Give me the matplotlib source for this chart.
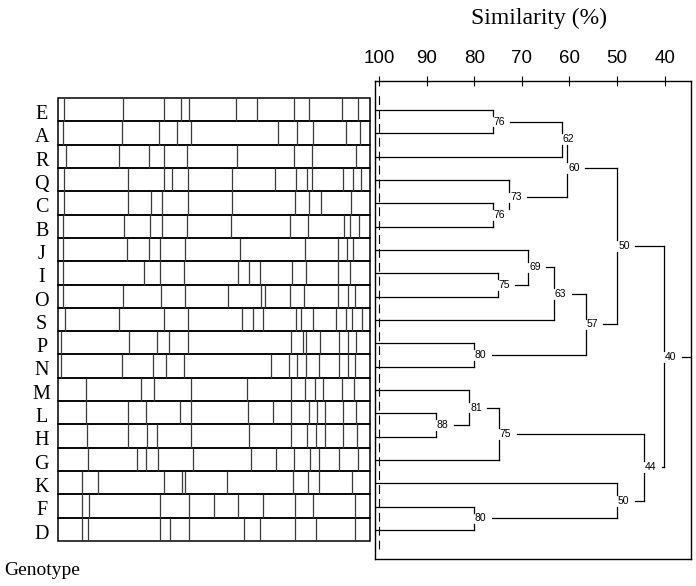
import matplotlib.pyplot as plt
from matplotlib.patches import Rectangle

genotypes = ['E', 'A', 'R', 'Q', 'C', 'B', 'J', 'I', 'O', 'S',
             'P', 'N', 'M', 'L', 'H', 'G', 'K', 'F', 'D']

# band positions along each lane (gel scan units, lane runs 58.3 -> 370.3)
bands_E = [64, 123.3, 163.7, 180.7, 189, 236, 257.3, 293.5, 309.3, 342.3, 357.5]
bands_A = [63.3, 122.2, 159.3, 177.3, 190.5, 277.7, 297.3, 313, 345.7, 360.3]
bands_R = [65.5, 118.5, 148.7, 163.5, 186.7, 237, 294.3, 311.7, 355.7]
bands_Q = [63.5, 128, 163.5, 171.5, 187.7, 232.3, 275.3, 296, 307.3, 311.7, 343.3, 353.3, 360.5]
bands_C = [63.5, 128, 151, 162.3, 187.7, 232.3, 294.5, 309.3, 320.8, 351.3]
bands_B = [63.3, 124.3, 149.5, 162.3, 186.7, 231.3, 290.2, 308.3, 344.3, 350, 359.3]
bands_J = [63.3, 126.7, 148.8, 160.2, 185.2, 240, 304.8, 338.3, 347.3, 353.3]
bands_I = [63.3, 144.3, 160, 184.3, 237.8, 249.3, 259.5, 291.5, 305.8, 338, 349.5]
bands_O = [63.3, 122.5, 160.5, 185.2, 227.7, 260.7, 265.2, 290, 304, 338, 348, 355.3]
bands_S = [65.3, 118.8, 163.5, 188, 242.3, 252.8, 263.3, 296, 300.7, 312.8, 335.5, 345.8, 351.7, 361.5]
bands_P = [61, 129.3, 156.7, 169.3, 188, 290.5, 302.5, 305.8, 319.7, 338.5, 348.3, 355.7]
bands_N = [61, 121.5, 153.3, 166, 184.3, 271, 289.3, 297.3, 305.7, 318.5, 338.7, 348, 354.8]
bands_M = [86, 140.7, 154.3, 190.5, 247.2, 290.5, 305.3, 315.3, 323.3, 341.7, 353.7]
bands_L = [86, 128.3, 146.2, 180.3, 190.5, 248.3, 272.5, 291.2, 308.5, 316.7, 325.2, 342.5, 355.7]
bands_H = [87.3, 128.3, 146.5, 156.8, 190.5, 249.3, 291.3, 307.3, 315.8, 325.2, 343.3, 356.7]
bands_G = [88.3, 136.5, 145.5, 158.3, 192.5, 250.5, 275.5, 294, 309.5, 318.5, 339.3, 357.5]
bands_K = [82.3, 98.3, 163.7, 182.3, 184.5, 226.5, 292.5, 307.5, 318.5, 351.5]
bands_F = [82.3, 89.3, 160.3, 189.3, 214.3, 238.2, 262.5, 295.2, 313.2, 354.5]
bands_D = [82.3, 88.3, 159.7, 170.3, 189.3, 243.7, 259.8, 295, 315.5, 354.5]

lanes = [bands_E, bands_A, bands_R, bands_Q, bands_C, bands_B, bands_J, bands_I,
         bands_O, bands_S, bands_P, bands_N, bands_M, bands_L, bands_H, bands_G,
         bands_K, bands_F, bands_D]

# UPGMA-style merges, node k is called 'n{k+1}'
merge_left = ['E', 'n1', 'C', 'Q', 'n2', 'I', 'J', 'n7', 'P', 'n8', 'n5',
              'L', 'M', 'n13', 'F', 'K', 'n14', 'n11']
merge_right = ['A', 'R', 'B', 'n3', 'n4', 'O', 'n6', 'S', 'N', 'n9', 'n10',
               'H', 'n12', 'G', 'D', 'n15', 'n16', 'n17']
merge_sim = [76.1, 61.6, 76.1, 72.6, 60.4, 75.1, 68.6, 63.2, 80.0, 56.6, 49.9,
             88.0, 81.0, 74.8, 80.0, 50.0, 44.3, 40.1]

sim_ticks = [100, 90, 80, 70, 60, 50, 40]

serif = 'Liberation Serif'
sans = 'Liberation Sans'

fig = plt.figure(figsize=(6.96, 5.86), dpi=100)

# ---- gel lanes ----
axg = fig.add_axes([58.3 / 696, 1 - 541 / 586, 312 / 696, 443 / 586])
axg.set_xlim(58.3, 370.3)
axg.set_ylim(len(lanes), 0)
axg.axis('off')
for i, b in enumerate(lanes):
    axg.vlines(b, i, i + 1, color='#3a3a3a', lw=0.9)
    axg.add_patch(Rectangle((58.3, i), 312, 1, fill=False, ec='black', lw=1.1, clip_on=False))
    axg.text(41.7, i + 0.9, genotypes[i], ha='center', va='baseline',
             fontsize=14.5, family=serif, clip_on=False)

# ---- dendrogram ----
ax = fig.add_axes([375 / 696, 1 - 559 / 586, 316 / 696, 478 / 586])
x_left, x_right = 100.84, 34.45
ax.set_xlim(x_left, x_right)
ax.set_ylim(19.24, -1.24)
ax.xaxis.tick_top()
ax.set_xticks(sim_ticks)
ax.set_xticklabels([str(t) for t in sim_ticks], family=sans)
ax.tick_params(axis='x', direction='inout', length=7, width=0.8, pad=6.5, labelsize=13.5)
ax.set_yticks([])
for sp in ax.spines.values():
    sp.set_linewidth(1.0)

ax.axvline(100, ymin=0.02, ymax=0.98, color='black', lw=0.8, linestyle=(0, (8, 4.5)))

SPAN = 3.7    # label width + gap, in % units
HALF = 0.25   # half label height, in leaf units
lw = 0.9

ypos = {g: i for i, g in enumerate(genotypes)}
xpos = {}
for k, (a, b, s) in enumerate(zip(merge_left, merge_right, merge_sim)):
    ny = (ypos[a] + ypos[b]) / 2
    ends = []
    for c, sign in ((a, 1), (b, -1)):
        if c in xpos:
            start = xpos[c] - SPAN
            if start > s:
                ax.plot([start, s], [ypos[c], ypos[c]], color='black', lw=lw)
                ends.append(ypos[c])
            else:
                ends.append(ypos[c] + sign * HALF)
        else:
            ax.plot([x_left, s], [ypos[c], ypos[c]], color='black', lw=lw)
            ends.append(ypos[c])
    ax.plot([s, s], [ends[0], ny - HALF], color='black', lw=lw)
    ax.plot([s, s], [ny + HALF, ends[1]], color='black', lw=lw)
    ax.text(s - 0.15, ny, f'{s:.0f}', ha='left', va='center', fontsize=7.5, family=sans)
    name = f'n{k + 1}'
    xpos[name] = s
    ypos[name] = ny

root = f'n{len(merge_sim)}'
ax.plot([xpos[root] - SPAN, x_right], [ypos[root], ypos[root]], color='black', lw=lw)

fig.text(538.7 / 696, 1 - 24 / 586, 'Similarity (%)', ha='center', va='baseline',
         fontsize=17, family=serif)
fig.text(4 / 696, 1 - 575 / 586, 'Genotype', ha='left', va='baseline',
         fontsize=14, family=serif)

fig.savefig('out.png', dpi=100)
